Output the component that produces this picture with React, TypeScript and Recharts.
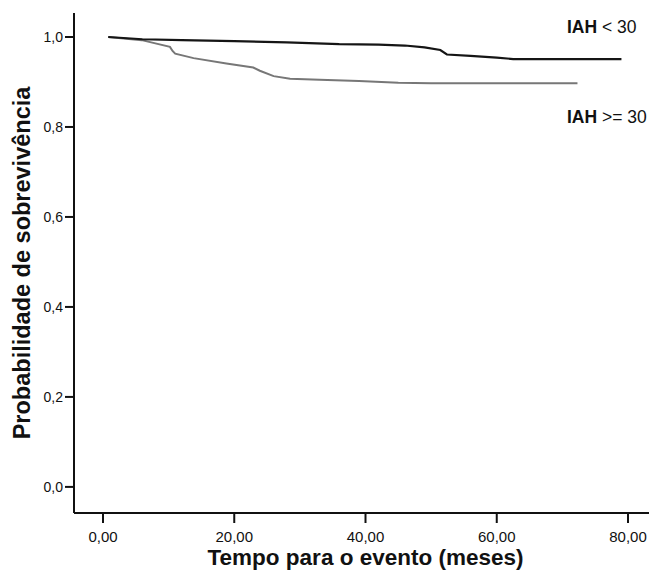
import {
  Label,
  Line,
  LineChart,
  ReferenceDot,
  XAxis,
  YAxis,
} from "recharts";

// Kaplan-Meier curves
const lowTimes = [0.8, 6, 12, 20, 28, 36, 42, 46, 49, 51.4, 52.4, 56, 60, 62.5, 70, 79];
const lowSurv = [1.0, 0.995, 0.993, 0.991, 0.988, 0.984, 0.983, 0.981, 0.977, 0.971, 0.961, 0.958, 0.954, 0.951, 0.951, 0.951];

const highTimes = [0.8, 5.9, 10.2, 10.6, 11, 13.8, 18.8, 22.9, 23.9, 26, 28.5, 33, 39, 45, 50, 60, 72.3];
const highSurv = [1.0, 0.993, 0.978, 0.969, 0.963, 0.953, 0.941, 0.932, 0.925, 0.913, 0.907, 0.905, 0.902, 0.898, 0.897, 0.897, 0.897];

const xTicks = [0, 20, 40, 60, 80];
const yTicks = [0, 0.2, 0.4, 0.6, 0.8, 1.0];

const lowData = lowTimes.map((t, i) => ({ t, s: lowSurv[i] }));
const highData = highTimes.map((t, i) => ({ t, s: highSurv[i] }));

const font = "'Liberation Sans', Arial, sans-serif";

function GroupLabel({ viewBox, text }: any) {
  const [a, b] = text;
  return (
    <text
      x={viewBox.cx ?? viewBox.x}
      y={viewBox.cy ?? viewBox.y}
      dy="0.35em"
      fontFamily={font}
      fontSize={17.5}
      fill="#111"
    >
      <tspan fontWeight="bold">{a}</tspan>
      <tspan>{b}</tspan>
    </text>
  );
}

export default function App() {
  return (
    <div style={{ width: 649, height: 572 }}>
      <style>{`body{margin:0}`}</style>
      <LineChart
        width={649}
        height={572}
        margin={{ top: 13, right: 0, bottom: 0, left: 0 }}
      >
        <XAxis
          xAxisId="top"
          orientation="top"
          type="number"
          dataKey="t"
          domain={[-4.42, 83.2]}
          allowDataOverflow
          tick={false}
          tickLine={false}
          height={0}
          axisLine={{ stroke: "#111", strokeWidth: 2 }}
        />
        <XAxis
          type="number"
          dataKey="t"
          domain={[-4.42, 83.2]}
          allowDataOverflow
          ticks={xTicks}
          height={59}
          tickSize={10}
          tickMargin={8}
          tickFormatter={(v: number) => v.toFixed(2).replace(".", ",")}
          tick={{ fill: "#111", fontSize: 15, fontFamily: font }}
          axisLine={{ stroke: "#111", strokeWidth: 2 }}
          tickLine={{ stroke: "#111", strokeWidth: 2 }}
        >
          <Label
            value="Tempo para o evento (meses)"
            position="center"
            dx={4}
            dy={15}
            style={{ fontFamily: font, fontSize: 22.5, fontWeight: "bold", fill: "#111" }}
          />
        </XAxis>
        <YAxis
          type="number"
          domain={[-0.058, 1.0533]}
          allowDataOverflow
          ticks={yTicks}
          width={74}
          tickSize={9}
          tickMargin={2}
          tickFormatter={(v: number) => v.toFixed(1).replace(".", ",")}
          tick={{ fill: "#111", fontSize: 14, fontFamily: font }}
          axisLine={{ stroke: "#111", strokeWidth: 2 }}
          tickLine={{ stroke: "#111", strokeWidth: 2 }}
        >
          <Label
            value="Probabilidade de sobrevivência"
            position="center"
            angle={-90}
            dx={-15}
            style={{ fontFamily: font, fontSize: 23.5, fontWeight: "bold", fill: "#111" }}
          />
        </YAxis>
        <Line
          data={highData}
          dataKey="s"
          type="linear"
          stroke="#777"
          strokeWidth={2}
          dot={false}
          isAnimationActive={false}
        />
        <Line
          data={lowData}
          dataKey="s"
          type="linear"
          stroke="#151515"
          strokeWidth={2.2}
          dot={false}
          isAnimationActive={false}
        />
        <ReferenceDot
          x={70.7}
          y={1.022}
          r={0}
          label={<GroupLabel text={["IAH", " < 30"]} />}
        />
        <ReferenceDot
          x={70.7}
          y={0.822}
          r={0}
          label={<GroupLabel text={["IAH", " >= 30"]} />}
        />
      </LineChart>
    </div>
  );
}
